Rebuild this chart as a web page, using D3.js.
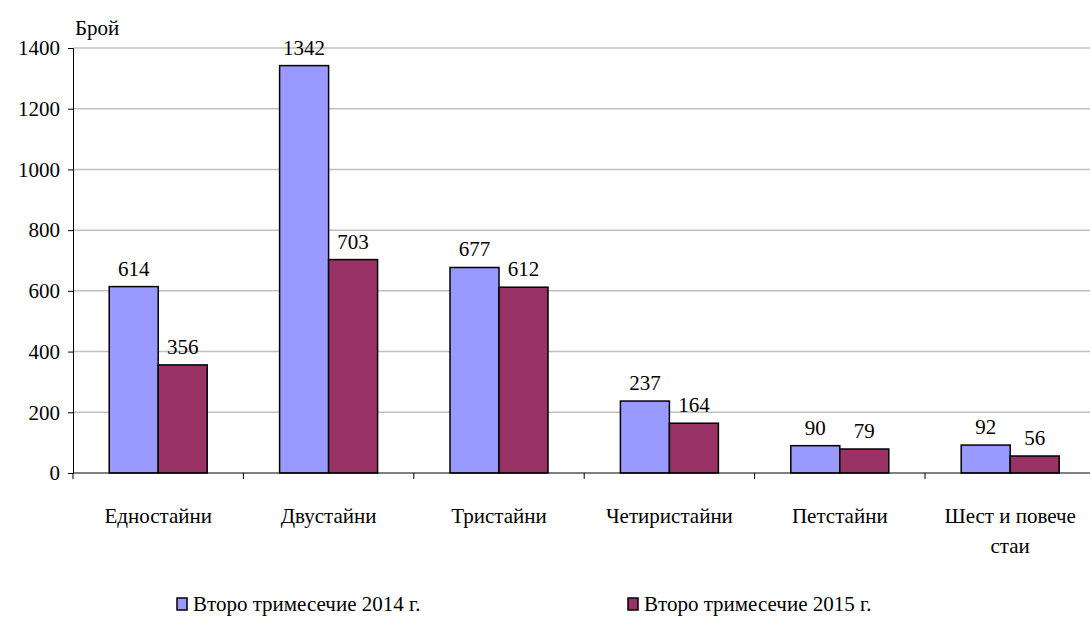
<!DOCTYPE html>
<html>
<head>
<meta charset="utf-8">
<script src="https://cdn.jsdelivr.net/npm/d3@7"></script>
<style>
  body { margin: 0; background: #fff; overflow: hidden; font-family: 'Liberation Serif', serif; }
  #chart text { font-family: 'Liberation Serif', serif; }
</style>
</head>
<body>
<svg id="chart" width="1090" height="638"></svg>
<script>
// data
var categories = ["Едностайни", "Двустайни", "Тристайни", "Четиристайни", "Петстайни", "Шест и повече стаи"];
var series = ["Второ тримесечие 2014 г.", "Второ тримесечие 2015 г."];
var values2014 = [614, 1342, 677, 237, 90, 92];
var values2015 = [356, 703, 612, 164, 79, 56];
var yTicks = [0, 200, 400, 600, 800, 1000, 1200, 1400];
var colors = ["#9999ff", "#993366"];

var plotLeft = 73, plotTop = 48, plotBottom = 473;
var catW = 170.4;
var plotRight = plotLeft + catW * categories.length;
var fs = 21;

var svg = d3.select("#chart");

var x0 = d3.scaleBand().domain(categories).range([plotLeft, plotRight]).paddingInner(0).paddingOuter(0);
var x1 = d3.scaleBand().domain(series).range([0, x0.bandwidth()]).paddingInner(0).paddingOuter(0.739);
var y = d3.scaleLinear().domain([0, 1400]).range([plotBottom, plotTop]);

// gridlines
svg.append("g").selectAll("line").data(yTicks.filter(function(d){ return d > 0; })).enter()
  .append("line")
  .attr("x1", plotLeft).attr("x2", 1090)
  .attr("y1", function(d){ return y(d); }).attr("y2", function(d){ return y(d); })
  .attr("stroke", "#c0c0c0").attr("stroke-width", 1.5);

// y axis
var yAxis = svg.append("g")
  .attr("transform", "translate(" + plotLeft + ",0)")
  .call(d3.axisLeft(y).tickValues(yTicks).tickSize(5).tickPadding(8).tickFormat(d3.format("d")));
yAxis.attr("font-family", null).attr("font-size", fs);
yAxis.select(".domain").attr("stroke", "#000");
yAxis.selectAll(".tick line").attr("stroke", "#000");
yAxis.selectAll(".tick text").attr("fill", "#000");

svg.append("text").attr("x", 75).attr("y", 35).attr("font-size", fs).text("Брой");

// bars
var rows = categories.map(function(c, i){ return { cat: c, vals: [values2014[i], values2015[i]] }; });
var groups = svg.append("g").selectAll("g").data(rows).enter()
  .append("g").attr("transform", function(d){ return "translate(" + x0(d.cat) + ",0)"; });

groups.selectAll("rect")
  .data(function(d){ return d.vals.map(function(v, j){ return { s: series[j], v: v, j: j }; }); })
  .enter().append("rect")
  .attr("x", function(d){ return x1(d.s); })
  .attr("width", x1.bandwidth())
  .attr("y", function(d){ return y(d.v); })
  .attr("height", function(d){ return plotBottom - y(d.v); })
  .attr("fill", function(d){ return colors[d.j]; })
  .attr("stroke", "#000").attr("stroke-width", 1.5);

groups.selectAll("text.val")
  .data(function(d){ return d.vals.map(function(v, j){ return { s: series[j], v: v }; }); })
  .enter().append("text").attr("class", "val")
  .attr("x", function(d){ return x1(d.s) + x1.bandwidth() / 2; })
  .attr("y", function(d){ return y(d.v) - 11; })
  .attr("text-anchor", "middle").attr("font-size", fs)
  .text(function(d){ return d.v; });

// x axis
svg.append("line").attr("x1", plotLeft).attr("x2", 1090).attr("y1", plotBottom).attr("y2", plotBottom)
  .attr("stroke", "#000").attr("stroke-width", 1);
svg.append("g").selectAll("line").data(d3.range(categories.length + 1)).enter()
  .append("line")
  .attr("x1", function(i){ return plotLeft + i * catW; }).attr("x2", function(i){ return plotLeft + i * catW; })
  .attr("y1", plotBottom).attr("y2", plotBottom + 6).attr("stroke", "#000");

var labels = svg.append("g").selectAll("text").data(categories).enter()
  .append("text")
  .attr("text-anchor", "middle").attr("font-size", fs)
  .attr("transform", function(d){ return "translate(" + (x0(d) + x0.bandwidth() / 2) + ",523)"; });
labels.each(function(d){
  var t = d3.select(this);
  var parts = d === "Шест и повече стаи" ? ["Шест и повече", "стаи"] : [d];
  parts.forEach(function(p, k){
    t.append("tspan").attr("x", 0).attr("dy", k === 0 ? 0 : 30).text(p);
  });
});

// legend
var legX = [177, 628];
var leg = svg.append("g").selectAll("g").data(series).enter()
  .append("g").attr("transform", function(d, i){ return "translate(" + legX[i] + ",598)"; });
leg.append("rect").attr("width", 10).attr("height", 12).attr("y", 0)
  .attr("fill", function(d, i){ return colors[i]; }).attr("stroke", "#000").attr("stroke-width", 1.5);
leg.append("text").attr("x", 16).attr("y", 13).attr("font-size", fs)
  .text(function(d){ return d; });
</script>
</body>
</html>
